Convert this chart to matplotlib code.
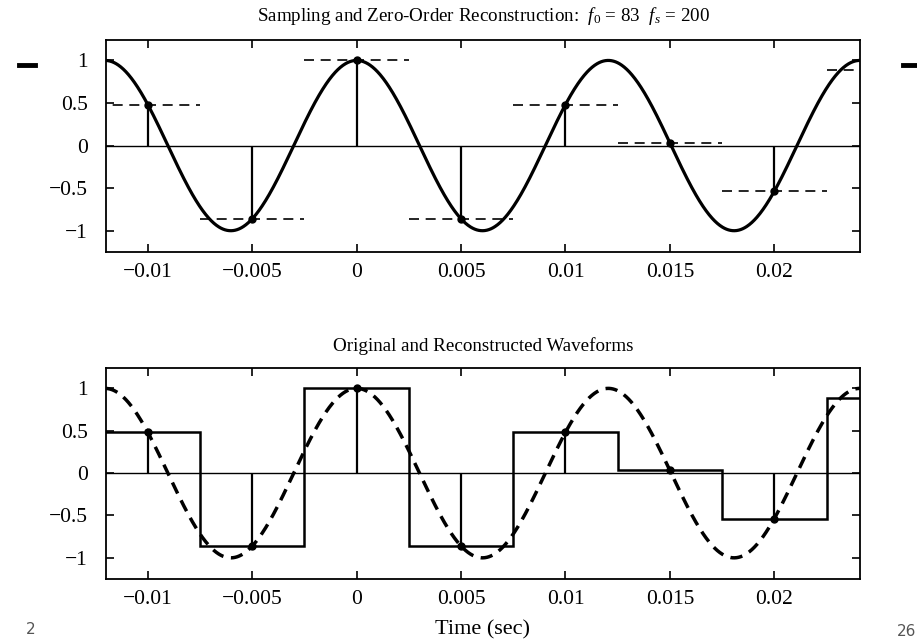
import numpy as np
import matplotlib.pyplot as plt
from matplotlib.lines import Line2D

plt.rcParams['font.family'] = ['Liberation Serif', 'DejaVu Serif']
plt.rcParams['mathtext.fontset'] = 'custom'
plt.rcParams['mathtext.rm'] = 'Liberation Serif'
plt.rcParams['mathtext.it'] = 'Liberation Serif:italic'

# parameters from the title
f0 = 83
fs = 200

t_samp = [-0.01, -0.005, 0.0, 0.005, 0.01, 0.015, 0.02, 0.025]
x_samp = [0.482, -0.861, 1.0, -0.861, 0.482, 0.031, -0.536, 0.891]

x_ticks = [-0.01, -0.005, 0, 0.005, 0.01, 0.015, 0.02]
x_ticklabels = ['−0.01', '−0.005', '0', '0.005', '0.01', '0.015', '0.02']
y_ticks = [-1, -0.5, 0, 0.5, 1]
y_ticklabels = ['−1', '−0.5', '0', '0.5', '1']

t_samp = np.array(t_samp)
x_samp = np.array(x_samp)
Ts = 1.0 / fs

# continuous cosine x(t) = cos(2 pi f0 t)
tt = np.linspace(-0.012, 0.0245, 1500)
xx = np.cos(2 * np.pi * f0 * tt)

fig = plt.figure(figsize=(9.17, 6.44), dpi=100)
ax1 = fig.add_axes([0.1156, 0.6087, 0.8222, 0.3292])
ax2 = fig.add_axes([0.1156, 0.1009, 0.8222, 0.3276])


def style(ax):
    ax.set_xlim(-0.012, 0.0241)
    ax.set_ylim(-1.25, 1.24)
    ax.set_xticks(x_ticks)
    ax.set_xticklabels(x_ticklabels)
    ax.set_yticks(y_ticks)
    ax.set_yticklabels(y_ticklabels)
    ax.tick_params(direction='in', top=True, right=True, length=6,
                   width=1.2, labelsize=15.5, pad=8)
    ax.tick_params(axis='y', pad=13)
    for s in ax.spines.values():
        s.set_linewidth(1.3)
    ax.axhline(0, color='k', lw=1.0)


# top: sampled signal with hold intervals
style(ax1)
ax1.plot(tt, xx, 'k-', lw=2.3)
ax1.vlines(t_samp, 0, x_samp, color='k', lw=1.6)
ax1.hlines(x_samp, t_samp - Ts / 2, t_samp + Ts / 2, color='k', lw=1.2,
           linestyles=(0, (6, 4)))
ax1.plot(t_samp, x_samp, 'ko', ms=5)
ax1.set_title('Sampling and Zero-Order Reconstruction:  $f_0$ = 83  $f_s$ = 200',
              fontsize=13.7, pad=14)

# bottom: original and zero-order hold output
style(ax2)
edges = np.append(t_samp - Ts / 2, t_samp[-1] + Ts / 2)
ax2.stairs(x_samp, edges, baseline=None, color='k', lw=1.8)
ax2.vlines(t_samp, 0, x_samp, color='k', lw=1.6)
ax2.plot(tt, xx, color='k', lw=2.5, linestyle=(0, (3.5, 2.2)))
ax2.plot(t_samp, x_samp, 'ko', ms=5)
ax2.set_title('Original and Reconstructed Waveforms', fontsize=13.7, pad=12)
ax2.set_xlabel('Time (sec)', fontsize=16, labelpad=8)

# page fragments visible at the edges of the image
fig.add_artist(Line2D([0.021, 0.038], [0.899, 0.899], color='k', lw=3.5,
                      transform=fig.transFigure))
fig.add_artist(Line2D([0.985, 0.998], [0.899, 0.899], color='k', lw=3.5,
                      transform=fig.transFigure))
fig.text(0.033, 0.022, '2', fontsize=11, color='#555555', family='DejaVu Sans',
         ha='center', va='center')
fig.text(0.999, 0.019, '26', fontsize=11, color='#555555', family='DejaVu Sans',
         ha='right', va='center')

fig.savefig('out.png', dpi=100)
